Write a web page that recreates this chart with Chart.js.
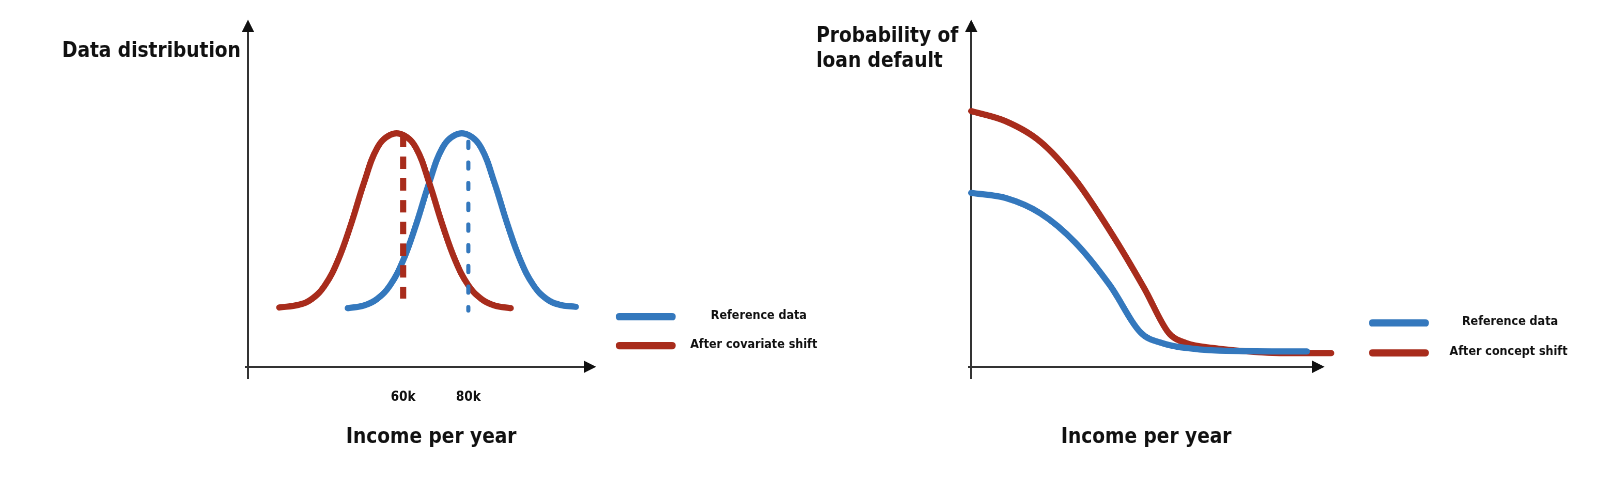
<!DOCTYPE html>
<html>
<head>
<meta charset="utf-8">
<script src="https://cdn.jsdelivr.net/npm/chart.js@4"></script>
<style>
  body { margin: 0; background: #fff; width: 1620px; height: 484px; overflow: hidden;
         font-family: "DejaVu Sans Condensed", "DejaVu Sans", sans-serif; font-weight: bold; color: #111; }
  #wrap { position: relative; width: 1568px; height: 468px; transform: scale(1.0332); transform-origin: 0 0; }
  canvas { position: absolute; }
  .lbl { position: absolute; white-space: nowrap; }
  .title { font-size: 20px; line-height: 24px; }
  .leg { font-size: 12px; }
  .sw { position: absolute; width: 58px; height: 7px; border-radius: 4px; }
</style>
</head>
<body>
<div id="wrap">
<canvas id="left" style="left:0;top:0"></canvas>
<canvas id="right" style="left:900px;top:0"></canvas>

<div class="lbl title" style="left:60px;top:36px">Data distribution</div>
<div class="lbl title" style="left:335px;top:410px">Income per year</div>
<div class="lbl title" style="left:790px;top:22px;text-align:left">Probability of<br>loan default</div>
<div class="lbl title" style="left:1027px;top:410px">Income per year</div>

<div class="sw" style="left:596px;top:303px;background:#3478bd"></div>
<div class="lbl leg" style="left:688px;top:298px">Reference data</div>
<div class="sw" style="left:596px;top:331px;background:#a82c1c"></div>
<div class="lbl leg" style="left:668px;top:326px">After covariate shift</div>

<div class="sw" style="left:1325px;top:309px;background:#3478bd"></div>
<div class="lbl leg" style="left:1415px;top:304px">Reference data</div>
<div class="sw" style="left:1325px;top:338px;background:#a82c1c"></div>
<div class="lbl leg" style="left:1403px;top:333px">After concept shift</div>
</div>

<script>
// left chart: distribution by income (k)
const refX = [43, 48, 52, 56, 60, 64, 68, 72, 76, 80, 84, 88, 92, 96, 100, 104, 108, 113];
const refY = [0.172, 0.18, 0.199, 0.239, 0.312, 0.418, 0.54, 0.641, 0.68, 0.68, 0.641, 0.54, 0.418, 0.312, 0.239, 0.199, 0.182, 0.176];
const covX = [22, 28, 32, 36, 40, 44, 48, 52, 56, 60, 64, 68, 72, 76, 80, 84, 88, 93];
const covY = [0.174, 0.182, 0.199, 0.239, 0.312, 0.418, 0.54, 0.641, 0.68, 0.68, 0.641, 0.54, 0.418, 0.312, 0.239, 0.199, 0.18, 0.172];
const tickVals = [60, 80];
const tickLabels = ['60k', '80k'];
const meanCov = [[60, 0.68], [60, 0.2]];
const meanRef = [[80, 0.66], [80, 0.165]];

// right chart: default probability by income
const refPX = [0, 10, 20, 30, 40, 49, 55, 65, 80, 97];
const refPY = [0.51, 0.495, 0.45, 0.365, 0.24, 0.1, 0.07, 0.052, 0.046, 0.045];
const conPX = [0, 10, 20, 30, 40, 50, 57, 62, 70, 80, 90, 104];
const conPY = [0.75, 0.72, 0.66, 0.55, 0.40, 0.23, 0.1, 0.07, 0.055, 0.045, 0.04, 0.04];

const BLUE = '#3478bd';
const RED = '#a82c1c';

function pts(xs, ys) { return xs.map((x, i) => ({ x: x, y: ys[i] })); }

const axesPlugin = {
    id: 'axes',
    beforeDatasetsDraw(chart) {
        const a = chart.chartArea, c = chart.ctx;
        c.save();
        c.strokeStyle = '#333'; c.lineWidth = 2;
        c.beginPath();
        c.moveTo(a.left, a.top + 5); c.lineTo(a.left, a.bottom + 12);
        c.moveTo(a.left - 3, a.bottom); c.lineTo(a.right - 5, a.bottom);
        c.stroke();
        c.fillStyle = '#111';
        c.beginPath();
        c.moveTo(a.left, a.top - 6); c.lineTo(a.left - 6, a.top + 6); c.lineTo(a.left + 6, a.top + 6); c.fill();
        c.beginPath();
        c.moveTo(a.right + 7, a.bottom); c.lineTo(a.right - 5, a.bottom - 6); c.lineTo(a.right - 5, a.bottom + 6); c.fill();
        const ticks = chart.options.plugins.axes.ticks || [];
        c.font = 'bold 13px "DejaVu Sans Condensed", sans-serif';
        c.textAlign = 'center';
        ticks.forEach((v, i) => {
            c.fillText(chart.options.plugins.axes.labels[i], chart.scales.x.getPixelForValue(v), a.bottom + 33);
        });
        c.restore();
    }
};

function lineSet(data, color, extra) {
    return Object.assign({ data: data, borderColor: color, borderWidth: 6, pointRadius: 0,
        tension: 0.4, cubicInterpolationMode: 'monotone', fill: false, clip: false, borderCapStyle: 'round' }, extra || {});
}

function makeChart(id, pad, xMin, xMax, datasets, ticks, labels) {
    const cv = document.getElementById(id);
    return new Chart(cv.getContext('2d'), {
        type: 'line',
        data: { datasets: datasets },
        options: {
            responsive: false,
            animation: false,
            devicePixelRatio: 2,
            layout: { padding: pad },
            scales: {
                x: { type: 'linear', min: xMin, max: xMax, display: false },
                y: { min: 0, max: 1, display: false }
            },
            plugins: { legend: { display: false }, tooltip: { enabled: false }, axes: { ticks: ticks, labels: labels } }
        },
        plugins: [axesPlugin]
    });
}

function sizeCanvas(id, w) {
    const cv = document.getElementById(id);
    cv.width = w; cv.height = 400;
    cv.style.width = w + 'px'; cv.style.height = '400px';
}
sizeCanvas('left', 600);
sizeCanvas('right', 420);

makeChart('left', { left: 240, right: 30, top: 25, bottom: 45 }, 12.4, 117, [
    lineSet(pts(meanCov.map(p => p[0]), meanCov.map(p => p[1])), RED, { borderWidth: 6, borderDash: [12, 9], borderCapStyle: 'butt', tension: 0 }),
    lineSet(pts(meanRef.map(p => p[0]), meanRef.map(p => p[1])), BLUE, { borderWidth: 4, borderDash: [6, 14], tension: 0 }),
    lineSet(pts(covX, covY), RED, { cubicInterpolationMode: 'default' }),
    lineSet(pts(refX, refY), BLUE, { cubicInterpolationMode: 'default' })
], tickVals, tickLabels);

makeChart('right', { left: 40, right: 45, top: 25, bottom: 45 }, 0, 100, [
    lineSet(pts(refPX, refPY), BLUE),
    lineSet(pts(conPX, conPY), RED)
], [], []);
</script>
</body>
</html>
